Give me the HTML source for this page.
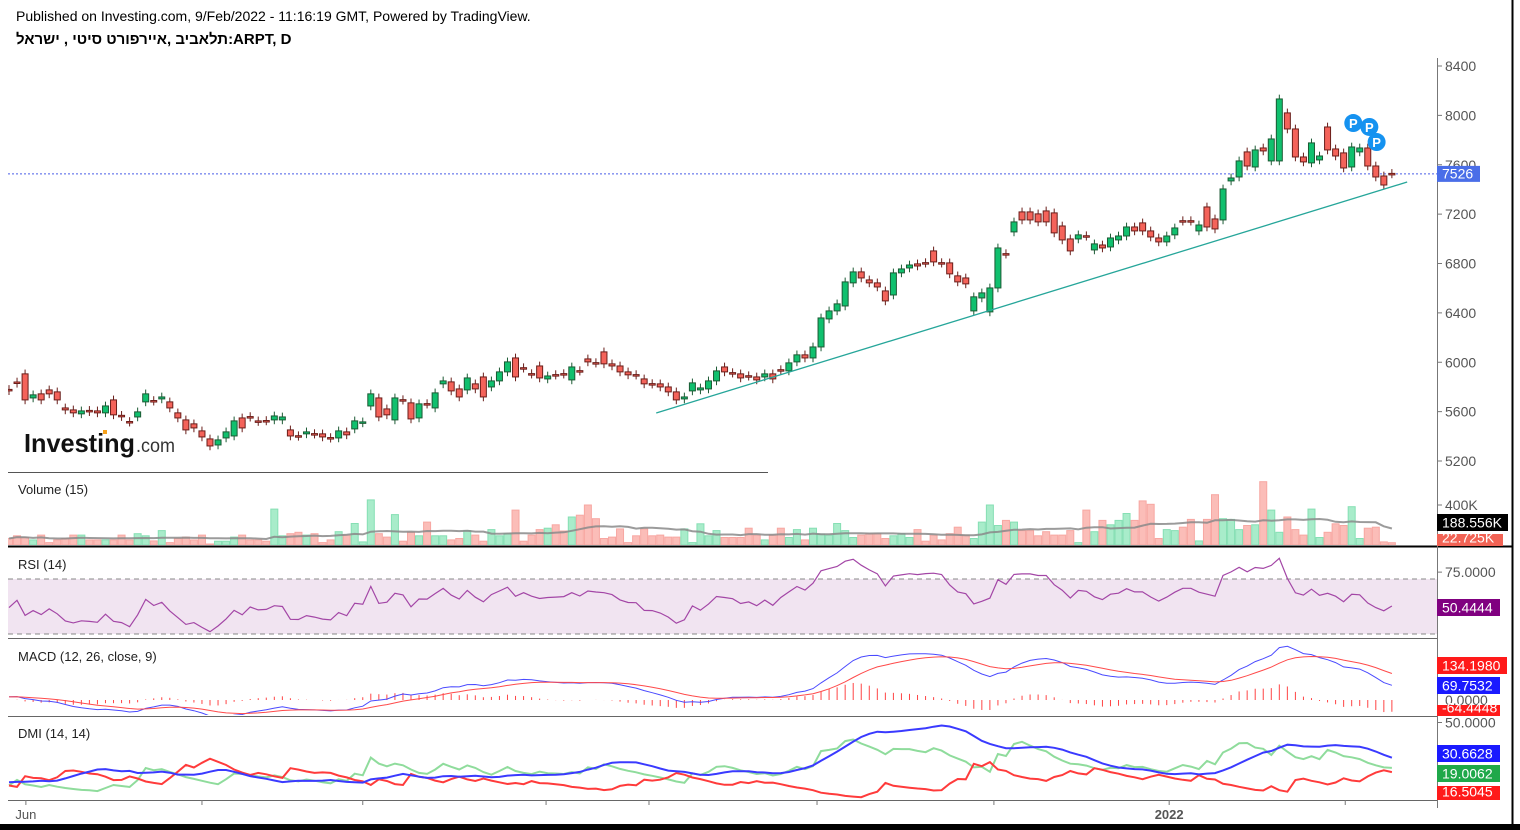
<!DOCTYPE html>
<html><head><meta charset="utf-8">
<style>
html,body{margin:0;padding:0;background:#fff;}
#wrap{position:relative;width:1520px;height:830px;overflow:hidden;background:#fff;font-family:"Liberation Sans",Arial,sans-serif;}
.hdr{position:absolute;left:16px;font-size:14px;color:#000;white-space:nowrap;}
svg text{font-family:"Liberation Sans",Arial,sans-serif;}
</style></head>
<body>
<div id="wrap">
<div class="hdr" style="top:8px">Published on Investing.com, 9/Feb/2022 - 11:16:19 GMT, Powered by TradingView.</div>
<div class="hdr" style="top:31px;font-weight:bold;font-size:15px;font-family:'Liberation Sans','Noto Sans CJK JP',sans-serif;"><span dir="rtl" style="unicode-bidi:isolate">תלאביב ,איירפורט סיטי , ישראל</span><span>:ARPT, D</span></div>
<svg id="chart" width="1520" height="830" style="position:absolute;left:0;top:0"></svg>
</div>
<script>
const opens=[5780,5840,5906,5711,5744,5776,5760,5630,5614,5582,5610,5606,5590,5695,5570,5520,5557,5679,5690,5703,5679,5590,5533,5501,5444,5379,5330,5387,5403,5549,5560,5525,5528,5533,5533,5452,5405,5420,5422,5420,5390,5387,5436,5460,5509,5646,5711,5622,5533,5697,5671,5549,5665,5630,5825,5841,5784,5776,5825,5881,5800,5849,5922,6035,5956,5908,5970,5865,5900,5908,5857,5932,6027,5997,6084,5987,5970,5922,5900,5865,5827,5825,5800,5760,5703,5768,5776,5784,5849,5962,5916,5906,5891,5881,5881,5906,5940,5930,6003,6060,6035,6124,6351,6416,6456,6643,6732,6667,6643,6578,6545,6724,6764,6797,6807,6902,6807,6805,6700,6683,6416,6521,6408,6602,6880,7056,7218,7218,7202,7226,7210,7104,6999,6999,7025,6910,6950,6934,6991,7023,7096,7129,7064,7007,6975,7032,7147,7147,7064,7258,7161,7153,7469,7501,7704,7582,7736,7631,7631,8020,7890,7663,7615,7639,7906,7728,7696,7582,7704,7736,7590,7509,7530];
const closes=[5770,5830,5695,5736,5695,5744,5695,5614,5590,5606,5600,5590,5646,5574,5560,5515,5598,5744,5685,5719,5630,5549,5452,5468,5395,5322,5371,5436,5525,5468,5555,5520,5525,5565,5557,5403,5400,5436,5418,5395,5385,5444,5412,5525,5517,5744,5557,5574,5711,5693,5541,5663,5661,5752,5849,5768,5719,5873,5784,5719,5849,5922,6003,5881,5952,5904,5873,5889,5896,5904,5962,5928,6003,5993,5987,5970,5922,5898,5896,5825,5823,5800,5760,5695,5719,5833,5792,5849,5930,5922,5912,5873,5887,5857,5906,5865,5936,5995,6060,6035,6124,6359,6416,6473,6651,6732,6683,6643,6610,6497,6724,6756,6788,6780,6803,6813,6803,6716,6651,6635,6530,6562,6602,6926,6876,7137,7153,7153,7137,7137,7048,6991,6902,7032,7021,6959,6926,7007,7023,7096,7064,7064,7015,6975,7023,7088,7143,7143,7112,7096,7080,7404,7493,7631,7590,7720,7712,7809,8133,7890,7663,7623,7777,7671,7720,7671,7574,7744,7736,7590,7501,7436,7526];
const volumesK=[65,92,75,51,99,24,51,65,99,99,51,51,51,51,99,51,113,92,41,144,24,65,79,51,99,10,38,38,79,99,51,51,38,359,92,113,127,99,113,24,51,133,99,215,31,451,113,79,304,38,127,92,229,92,92,51,65,144,99,38,154,92,113,349,38,99,154,168,202,140,280,298,400,263,65,79,161,24,92,161,92,99,79,79,161,24,212,92,144,75,75,75,168,99,51,99,168,75,154,51,168,109,99,215,144,75,99,113,113,65,92,113,75,154,38,99,51,113,178,99,65,229,400,195,246,229,144,144,92,133,99,99,144,24,349,133,246,202,246,315,246,441,407,65,154,144,178,256,41,256,503,263,256,154,195,202,633,349,127,280,154,99,359,75,127,212,195,383,65,168,178,31,23];
const preCloses=[5700,5760,5720,5680,5740,5800,5760,5720,5780,5830,5790,5740,5700,5760,5810,5770,5730,5790,5840,5800,5750,5720,5770,5820,5780,5740,5700,5750,5800,5760,5720,5760,5800,5840,5810,5780,5820,5860,5830,5810];
const priceTicks=[8400,8000,7600,7200,6800,6400,6000,5600,5200];
const xTickIdx=[2.1,24,44,66.8,79.6,100.5,122.5,144.3,166.2];
const xTickLabels=["Jun","","","","","","","2022",""];
const trendIdx=[80.5,173.9];
const trendPrice=[5589,7460];
const pMarkIdx=[167.2,169.2,170.1];
const pMarkPrice=[7938,7906,7784];
const lastPrice=7526;

const NS="http://www.w3.org/2000/svg";
const svg=document.getElementById('chart');
function el(tag,attrs,parent){const e=document.createElementNS(NS,tag);for(const k in attrs)e.setAttribute(k,attrs[k]);(parent||svg).appendChild(e);return e;}
function X(i){return 9+i*8.04;}
function PY(p){return 66+(8400-p)*0.12344;}
function VY(v){return 545-v*0.1;}
function RY(v){return 579+(70-v)*1.375;}
function MY(v){return 700-v*0.21;}
function DY(v){return 805-v*1.65;}

const defs=el('defs',{});
function clip(id,y,h){const c=el('clipPath',{id:id},defs);el('rect',{x:8,y:y,width:1429,height:h},c);}
clip('cp',55,417);clip('cv',476,69);clip('cr',548,89);clip('cm',640,75);clip('cd',718,82);

const allC=preCloses.concat(closes);
const allO=[preCloses[0]].concat(preCloses.slice(0,-1)).concat(opens);
const N0=preCloses.length;
const wk=35;
const allH=allC.map((c,i)=>Math.max(c,allO[i])+wk);
const allL=allC.map((c,i)=>Math.min(c,allO[i])-wk);
function ema(arr,n){const k=2/(n+1);const out=[];let e=arr[0];arr.forEach((v,i)=>{e=i?v*k+e*(1-k):v;out.push(e);});return out;}
const e12=ema(allC,12),e26=ema(allC,26);
const macdAll=e12.map((v,i)=>v-e26[i]);
const sigAll=ema(macdAll,9);
const rsiAll=[];{let ag=0,al=0;for(let i=0;i<allC.length;i++){if(i===0){rsiAll.push(50);continue;}const d=allC[i]-allC[i-1];const g=Math.max(d,0),l=Math.max(-d,0);if(i<=14){ag+=g/14;al+=l/14;}else{ag=(ag*13+g)/14;al=(al*13+l)/14;}rsiAll.push(al===0?100:100-100/(1+ag/al));}}
const pdiAll=[],mdiAll=[],adxAll=[];{let str=0,sp=0,sm=0,adx=20;for(let i=0;i<allC.length;i++){if(i===0){pdiAll.push(20);mdiAll.push(20);adxAll.push(20);continue;}const up=allH[i]-allH[i-1],dn=allL[i-1]-allL[i];const pdm=(up>dn&&up>0)?up:0,mdm=(dn>up&&dn>0)?dn:0;const tr=Math.max(allH[i]-allL[i],Math.abs(allH[i]-allC[i-1]),Math.abs(allL[i]-allC[i-1]));str=str-str/14+tr;sp=sp-sp/14+pdm;sm=sm-sm/14+mdm;const p=100*sp/str,m=100*sm/str;pdiAll.push(p);mdiAll.push(m);const dx=(p+m)?100*Math.abs(p-m)/(p+m):0;adx=(adx*13+dx)/14;adxAll.push(adx);}}
const rsi=rsiAll.slice(N0),macd=macdAll.slice(N0),sig=sigAll.slice(N0),pdi=pdiAll.slice(N0),mdi=mdiAll.slice(N0),adx=adxAll.slice(N0);
const volMA=volumesK.map((v,i)=>{const s=volumesK.slice(Math.max(0,i-14),i+1);return s.reduce((a,b)=>a+b,0)/s.length;});

function poly(vals,fy,attrs,g){const pts=vals.map((v,i)=>X(i).toFixed(1)+','+fy(v).toFixed(1)).join(' ');return el('polyline',Object.assign({points:pts,fill:'none'},attrs),g);}

const gp=el('g',{'clip-path':'url(#cp)'});


const ll=el('line',{x1:8,x2:1437,y1:PY(lastPrice),y2:PY(lastPrice),stroke:'#4a5ee8','stroke-width':1,'stroke-dasharray':'2,2'},gp);


closes.forEach((c,i)=>{
  const o=opens[i];const up=c>=o;const x=X(i);
  const hi=Math.max(o,c)+wk,lo=Math.min(o,c)-wk;
  const w=el('line',{x1:x,x2:x,y1:PY(hi),y2:PY(lo),stroke:up?'#1c5a34':'#6a1e1a','stroke-width':1},gp);
  
  
  const top=PY(Math.max(o,c)),bot=PY(Math.min(o,c));
  const b=el('rect',{x:x-3,y:top,width:6,height:Math.max(1.5,bot-top),fill:up?'#10c06e':'#f4635a',stroke:up?'#1c5a34':'#6a1e1a','stroke-width':1},gp);
  
  
});
const tl=el('line',{x1:X(trendIdx[0]),y1:PY(trendPrice[0]),x2:X(trendIdx[1]),y2:PY(trendPrice[1]),stroke:'#26a69a','stroke-width':1.3},gp);


pMarkIdx.forEach((ix,k)=>{
  const g=el('g',{},gp);
  
  
  el('circle',{cx:X(ix),cy:PY(pMarkPrice[k]),r:9,fill:'#1592f0'},g);
  const t=el('text',{x:X(ix),y:PY(pMarkPrice[k])+5,'text-anchor':'middle','font-size':13,'font-weight':'bold',fill:'#fff'},g);t.textContent='P';
});
const wm=el('g',{});


const wt=el('text',{x:24,y:452,'font-size':26,'font-weight':'bold',fill:'#111',textLength:111,lengthAdjust:'spacingAndGlyphs'},wm);wt.textContent='Investing';
const wt2=el('text',{x:136,y:452,'font-size':19,fill:'#333',textLength:39,lengthAdjust:'spacingAndGlyphs'},wm);wt2.textContent='.com';
el('rect',{x:103,y:430,width:4,height:4,fill:'#f7a21b'},wm);
el('line',{x1:8,x2:768,y1:472.5,y2:472.5,stroke:'#555','stroke-width':1});

const gv=el('g',{'clip-path':'url(#cv)'});


volumesK.forEach((v,i)=>{const up=closes[i]>=opens[i];
  const r=el('rect',{x:X(i)-3.5,y:VY(v),width:7,height:545-VY(v),fill:up?'#a8ecca':'#fbbdb8',stroke:up?'#86dfb4':'#f7a7a2','stroke-width':1},gv);
  
  });
const vm=poly(volMA,VY,{stroke:'#8a8a8a','stroke-width':2,'stroke-opacity':0.85},gv);



const gr=el('g',{'clip-path':'url(#cr)'});


el('rect',{x:8,y:RY(70),width:1429,height:RY(30)-RY(70),fill:'#f1e4f1'},gr);
el('line',{x1:8,x2:1437,y1:RY(70),y2:RY(70),stroke:'#888','stroke-dasharray':'5,4'},gr);
el('line',{x1:8,x2:1437,y1:RY(30),y2:RY(30),stroke:'#888','stroke-dasharray':'5,4'},gr);
const rl=poly(rsi,RY,{stroke:'#a346a6','stroke-width':1.2},gr);



const gm=el('g',{'clip-path':'url(#cm)'});


macd.forEach((v,i)=>{const h=v-sig[i];const b=el('line',{x1:X(i),x2:X(i),y1:MY(0),y2:MY(h),stroke:'#f44','stroke-width':1},gm);
  
  });
const ml=poly(macd,MY,{stroke:'#4a4aff','stroke-width':1},gm);


const sl=poly(sig,MY,{stroke:'#ff4a4a','stroke-width':1},gm);



const gd=el('g',{'clip-path':'url(#cd)'});


const pl=poly(pdi,DY,{stroke:'#8fdc9c','stroke-width':2},gd);


const mil=poly(mdi,DY,{stroke:'#ff3b3b','stroke-width':2},gd);


const al=poly(adx,DY,{stroke:'#3a3aff','stroke-width':2},gd);



el('line',{x1:8,x2:1512,y1:546.5,y2:546.5,stroke:'#000','stroke-width':2});
el('line',{x1:8,x2:1437,y1:638.5,y2:638.5,stroke:'#666','stroke-width':1});
el('line',{x1:8,x2:1437,y1:716.5,y2:716.5,stroke:'#666','stroke-width':1});
el('line',{x1:8,x2:1437,y1:800.5,y2:800.5,stroke:'#666','stroke-width':1});
el('line',{x1:1437.5,x2:1437.5,y1:58,y2:808,stroke:'#777','stroke-width':1});
el('line',{x1:1512.5,x2:1512.5,y1:0,y2:830,stroke:'#000','stroke-width':2});
el('rect',{x:0,y:824,width:1520,height:6,fill:'#000'});

function lbl(x,y,t,size,color,name,anchor){const e=el('text',{x:x,y:y,'font-size':size,fill:color,'text-anchor':anchor||'start'});e.textContent=t;return e;}
priceTicks.forEach(p=>{el('line',{x1:1437,x2:1442,y1:PY(p),y2:PY(p),stroke:'#777'});lbl(1445,PY(p)+5,String(p),14,'#555','price-tick-label');});
function box(y,h,w,fill,text,name){const g=el('g',{});el('rect',{x:1437,y:y,width:w,height:h,fill:fill},g);const t=el('text',{x:1442,y:y+h-3.5,'font-size':14,fill:'#fff'},g);t.textContent=text;return g;}
box(PY(lastPrice)-8,16,43,'#4a6ee8',String(lastPrice),'last-price-label');
el('line',{x1:1437,x2:1442,y1:VY(400),y2:VY(400),stroke:'#777'});
lbl(1445,VY(400)+5,'400K',14,'#555','volume-tick-label');
box(514,17,71,'#000','188.556K','volume-ma-value');
box(534,12,66,'#f26355','22.725K','volume-value');
el('line',{x1:1437,x2:1442,y1:RY(75),y2:RY(75),stroke:'#777'});
lbl(1445,RY(75)+5,'75.0000',14,'#555','rsi-tick-label');
box(599,17,63,'#800080','50.4444','rsi-value');
lbl(1445,705,'0.0000',14,'#555','macd-tick-label');
box(657,17,70,'#ff1a1a','134.1980','macd-signal-value');
box(677,17,63,'#1a1aff','69.7532','macd-value');
box(705,11,63,'#ff1a1a','-64.4448','macd-hist-value');
el('line',{x1:1437,x2:1442,y1:DY(50),y2:DY(50),stroke:'#777'});
lbl(1445,DY(50)+5,'50.0000',14,'#555','dmi-tick-label');
box(745,17,63,'#1a1aff','30.6628','adx-value');
box(765,17,63,'#1fa84a','19.0062','plus-di-value');
box(786,14,63,'#ff1a1a','16.5045','minus-di-value');
xTickIdx.forEach((ix,k)=>{el('line',{x1:X(ix),x2:X(ix),y1:800,y2:805,stroke:'#777'});if(xTickLabels[k]){const t=lbl(X(ix),819,xTickLabels[k],13,'#555','x-tick-label','middle');if(k===7)t.setAttribute('font-weight','bold');}});
lbl(18,494,'Volume (15)',13,'#222','volume-title');
lbl(18,569,'RSI (14)',13,'#222','rsi-title');
lbl(18,661,'MACD (12, 26, close, 9)',13,'#222','macd-title');
lbl(18,738,'DMI (14, 14)',13,'#222','dmi-title');
</script>
</body></html>
